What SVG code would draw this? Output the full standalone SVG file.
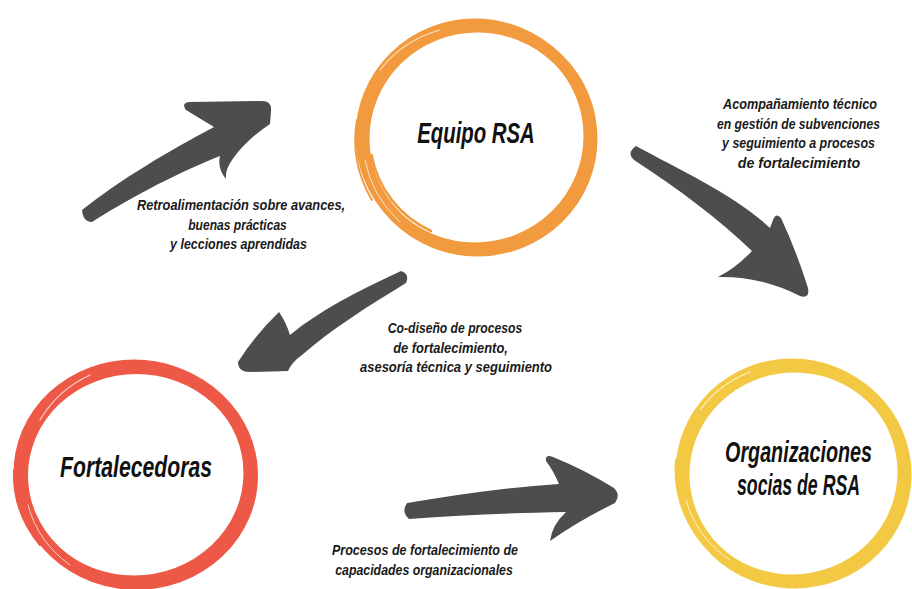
<svg xmlns="http://www.w3.org/2000/svg" width="912" height="589" viewBox="0 0 912 589">
<style>
.bg{fill:#ffffff}
.ring{fill:none}
.or{stroke:#F29A3E}
.rd{stroke:#EE5846}
.ye{stroke:#F3C944}
.streak{fill:none;stroke-linecap:round}
.wst{fill:none;stroke:#ffffff;stroke-linecap:round;opacity:0.7}
.arrow{fill:#4d4d4d}
.title{font-family:"Liberation Sans","Open Sans",sans-serif;font-weight:bold;font-style:italic;font-size:29px;fill:#111111;text-anchor:middle}
.lbl{font-family:"Liberation Sans","Open Sans",sans-serif;font-weight:bold;font-style:italic;font-size:14px;fill:#1a1a1a;text-anchor:middle}
</style>
<rect class="bg" x="0" y="0" width="912" height="589"/>

<g id="equipo-rsa">
  <ellipse class="ring or" cx="477.5" cy="138.5" rx="114" ry="112" stroke-width="12"/>
  <ellipse class="ring or" cx="475" cy="136" rx="114" ry="112" stroke-width="11"/>
  <path class="streak or" stroke-width="2.5" d="M371.6,155 A106,104 0 0 0 431,231"/>
  <path class="streak or" stroke-width="2" d="M357,120 A121,119 0 0 0 372,200"/>
  <path class="wst" stroke-width="1.2" d="M380,70 A114,112 0 0 1 440,30"/>
  <path class="wst" stroke-width="1" d="M365,160 A114,112 0 0 0 400,222"/>
  <text class="title" transform="translate(476 143) scale(0.7 1)" x="0" y="0" textLength="168" lengthAdjust="spacingAndGlyphs">Equipo RSA</text>
</g>

<g id="fortalecedoras">
  <ellipse class="ring rd" cx="136.5" cy="475.5" rx="115" ry="108" stroke-width="13"/>
  <ellipse class="ring rd" cx="134" cy="473" rx="115" ry="108" stroke-width="11"/>
  <path class="streak rd" stroke-width="2.5" d="M25,500 A113,106 0 0 0 90,575"/>
  <path class="streak rd" stroke-width="2" d="M14,470 A122,115 0 0 0 40,545"/>
  <path class="wst" stroke-width="1.2" d="M40,420 A115,108 0 0 1 90,375"/>
  <path class="wst" stroke-width="1" d="M28,505 A115,108 0 0 0 70,565"/>
  <text class="title" transform="translate(136 477) scale(0.7 1)" x="0" y="0" textLength="217" lengthAdjust="spacingAndGlyphs">Fortalecedoras</text>
</g>

<g id="organizaciones">
  <ellipse class="ring ye" cx="794.5" cy="474.5" rx="111" ry="108" stroke-width="12"/>
  <ellipse class="ring ye" cx="792" cy="472" rx="111" ry="108" stroke-width="11"/>
  <path class="streak ye" stroke-width="2.5" d="M688,490 A104,101 0 0 0 740,565"/>
  <path class="streak ye" stroke-width="2" d="M676,460 A118,115 0 0 0 700,540"/>
  <path class="wst" stroke-width="1.2" d="M700,410 A111,108 0 0 1 750,372"/>
  <path class="wst" stroke-width="1" d="M686,500 A111,108 0 0 0 730,560"/>
  <text class="title" transform="translate(798.5 462) scale(0.68 1)" x="0" y="0" textLength="216" lengthAdjust="spacingAndGlyphs">Organizaciones</text>
  <text class="title" transform="translate(798.5 495) scale(0.68 1)" x="0" y="0" textLength="181" lengthAdjust="spacingAndGlyphs">socias de RSA</text>
</g>

<g id="connectors">
  <g id="arrow-feedback">
    <path class="arrow" d="M82,210 C120,180 170,150 214,127 L186,110 Q181,103 189,102 L262,101 Q272,101 271,111 L270,124 Q246,140 232,160 Q225,170 226,179 Q217,168 220,156 C170,176 125,201 92,222 Q83,222 82,210 Z"/>
    <text class="lbl" transform="translate(241 210) scale(0.85 1)" x="0" y="0" textLength="245" lengthAdjust="spacingAndGlyphs">Retroalimentación sobre avances,</text>
    <text class="lbl" transform="translate(237.5 229.5) scale(0.85 1)" x="0" y="0" textLength="116" lengthAdjust="spacingAndGlyphs">buenas prácticas</text>
    <text class="lbl" transform="translate(238.5 248.5) scale(0.85 1)" x="0" y="0" textLength="161" lengthAdjust="spacingAndGlyphs">y lecciones aprendidas</text>
  </g>
  <g id="arrow-acompanamiento">
    <path class="arrow" d="M636,146 C680,170 735,195 770,228 L773,220 Q776,212 781,218 Q796,250 808,288 Q810,299 800,296 Q760,276 718,277 Q736,268 752,251 C720,220 680,190 634,160 Q626,153 636,146 Z"/>
    <text class="lbl" transform="translate(800 109) scale(0.85 1)" x="0" y="0" textLength="181" lengthAdjust="spacingAndGlyphs">Acompañamiento técnico</text>
    <text class="lbl" transform="translate(798.5 128.5) scale(0.85 1)" x="0" y="0" textLength="192" lengthAdjust="spacingAndGlyphs">en gestión de subvenciones</text>
    <text class="lbl" transform="translate(798.5 148) scale(0.85 1)" x="0" y="0" textLength="180" lengthAdjust="spacingAndGlyphs">y seguimiento a procesos</text>
    <text class="lbl" transform="translate(799 167.5) scale(0.85 1)" x="0" y="0" textLength="144" lengthAdjust="spacingAndGlyphs">de fortalecimiento</text>
  </g>
  <g id="arrow-codiseno">
    <path class="arrow" d="M401,271 Q410,274 406,283 C370,305 330,330 302,355 Q292,362 288,371 L250,372 Q238,372 238,362 Q255,335 279,312 Q286,322 290,335 C320,310 360,290 401,271 Z"/>
    <text class="lbl" transform="translate(455 333) scale(0.85 1)" x="0" y="0" textLength="158" lengthAdjust="spacingAndGlyphs">Co-diseño de procesos</text>
    <text class="lbl" transform="translate(450.5 352.5) scale(0.85 1)" x="0" y="0" textLength="135" lengthAdjust="spacingAndGlyphs">de fortalecimiento,</text>
    <text class="lbl" transform="translate(456 371.5) scale(0.85 1)" x="0" y="0" textLength="226" lengthAdjust="spacingAndGlyphs">asesoría técnica y seguimiento</text>
  </g>
  <g id="arrow-procesos">
    <path class="arrow" d="M407,503 C460,494 510,487 559,484 Q553,470 546,461 Q545,454 553,457 Q585,470 614,488 Q621,495 615,503 Q580,520 550,541 Q552,525 566,512 C510,513 460,515 409,519 Q401,512 407,503 Z"/>
    <text class="lbl" transform="translate(425 555) scale(0.85 1)" x="0" y="0" textLength="219" lengthAdjust="spacingAndGlyphs">Procesos de fortalecimiento de</text>
    <text class="lbl" transform="translate(424 575) scale(0.85 1)" x="0" y="0" textLength="209" lengthAdjust="spacingAndGlyphs">capacidades organizacionales</text>
  </g>
</g>
</svg>
